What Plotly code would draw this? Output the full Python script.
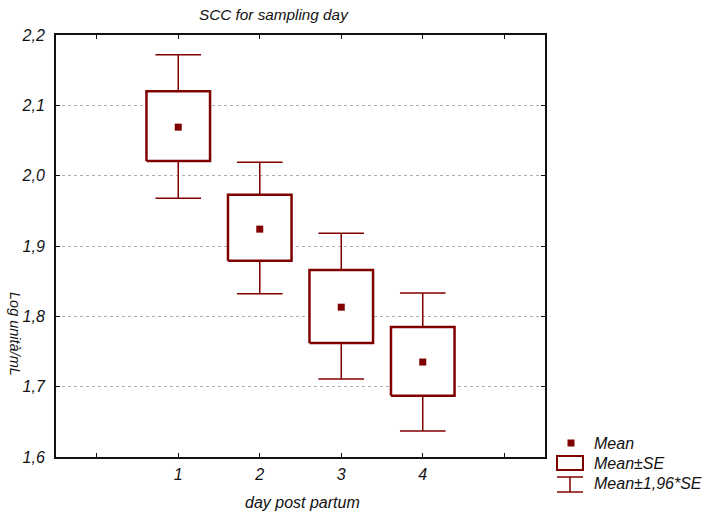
import plotly.graph_objects as go

days = [1, 2, 3, 4]
tick_labels = ["", "1", "2", "3", "4", ""]
mean = [2.069, 1.924, 1.813, 1.735]
se_hi = [2.120, 1.973, 1.866, 1.785]
se_lo = [2.021, 1.879, 1.762, 1.687]
ci_hi = [2.172, 2.019, 1.918, 1.833]
ci_lo = [1.968, 1.832, 1.711, 1.637]
y_ticks = [1.6, 1.7, 1.8, 1.9, 2.0, 2.1, 2.2]
y_tick_text = ["1,6", "1,7", "1,8", "1,9", "2,0", "2,1", "2,2"]

RED = "#800000"
BOX_W = 0.39
CAP_W = 0.28
FONT = "Liberation Sans, Arial, sans-serif"

wx, wy = [], []
for d, bh, bl, ch, cl in zip(days, se_hi, se_lo, ci_hi, ci_lo):
    wx += [d, d, None, d, d, None, d - CAP_W, d + CAP_W, None, d - CAP_W, d + CAP_W, None]
    wy += [bh, ch, None, bl, cl, None, ch, ch, None, cl, cl, None]

fig = go.Figure()
fig.add_trace(go.Scatter(x=wx, y=wy, mode="lines", line=dict(color=RED, width=1.5),
                         hoverinfo="skip", showlegend=False))
for d, bh, bl in zip(days, se_hi, se_lo):
    fig.add_trace(go.Scatter(x=[d - BOX_W, d + BOX_W, d + BOX_W, d - BOX_W, d - BOX_W],
                             y=[bl, bl, bh, bh, bl], mode="lines", fill="toself",
                             fillcolor="white", line=dict(color=RED, width=2.5),
                             hoverinfo="skip", showlegend=False))
fig.add_trace(go.Scatter(x=days, y=mean, mode="markers",
                         marker=dict(symbol="square", size=7, color=RED),
                         showlegend=False))

axis_font = dict(family=FONT, size=16, color="#111111", style="italic")
fig.update_xaxes(range=[-0.5, 5.5], tickvals=[0, 1, 2, 3, 4, 5], ticktext=tick_labels,
                 showgrid=False, zeroline=False, showline=True, linecolor="#111111",
                 linewidth=2, mirror="allticks", ticks="inside", ticklen=4,
                 tickcolor="#111111", tickfont=axis_font, automargin=False,
                 ticklabelstandoff=2)
fig.update_yaxes(range=[1.6, 2.2], tickvals=y_ticks, ticktext=y_tick_text,
                 showgrid=True, gridcolor="#b0b0b0", griddash="dot", gridwidth=1,
                 zeroline=False, showline=True, linecolor="#111111", linewidth=2,
                 mirror="allticks", ticks="inside", ticklen=4, tickcolor="#111111",
                 tickfont=axis_font, automargin=False, ticklabelstandoff=6)

W, H = 706, 513
L, R, T, B = 56, 161, 35, 56
pw, ph = W - L - R, H - T - B


def px(x):
    return (x - L) / pw


def py(y):
    return (H - B - y) / ph


def note(x, y, text, font, **kw):
    fig.add_annotation(x=px(x), y=py(y), xref="paper", yref="paper", text=text,
                       showarrow=False, font=font, yanchor="middle", **kw)


# Title and axis titles
note(274, 15, "SCC for sampling day",
     dict(family=FONT, size=15.3, color="#111111", style="italic"), xanchor="center")
note(302, 503, "day post partum", axis_font, xanchor="center")
note(15, 334, "Log unità/mL", dict(family=FONT, size=14.5, color="#111111", style="italic"),
     xanchor="center", textangle=90)

shapes = []
# Legend: mean marker
shapes.append(dict(type="rect", xref="paper", yref="paper", x0=px(567.5), x1=px(574.5),
                   y0=py(446.5), y1=py(439.5), fillcolor=RED, line=dict(width=0)))
# Legend: box
shapes.append(dict(type="rect", xref="paper", yref="paper", x0=px(557), x1=px(583),
                   y0=py(470), y1=py(456), fillcolor="white", line=dict(color=RED, width=2)))
# Legend: whisker
for seg in [((557, 477), (583, 477)), ((557, 492), (583, 492)), ((570, 477), (570, 492))]:
    shapes.append(dict(type="line", xref="paper", yref="paper", x0=px(seg[0][0]), y0=py(seg[0][1]),
                       x1=px(seg[1][0]), y1=py(seg[1][1]), line=dict(color=RED, width=1.5)))
fig.update_layout(shapes=shapes)

for txt, yy in [("Mean", 443), ("Mean±SE", 463), ("Mean±1,96*SE", 483)]:
    note(592, yy, txt, axis_font, xanchor="left")

fig.update_layout(width=W, height=H, margin=dict(l=L, r=R, t=T, b=B),
                  plot_bgcolor="white", paper_bgcolor="white", showlegend=False)
fig.write_html("out.html")
